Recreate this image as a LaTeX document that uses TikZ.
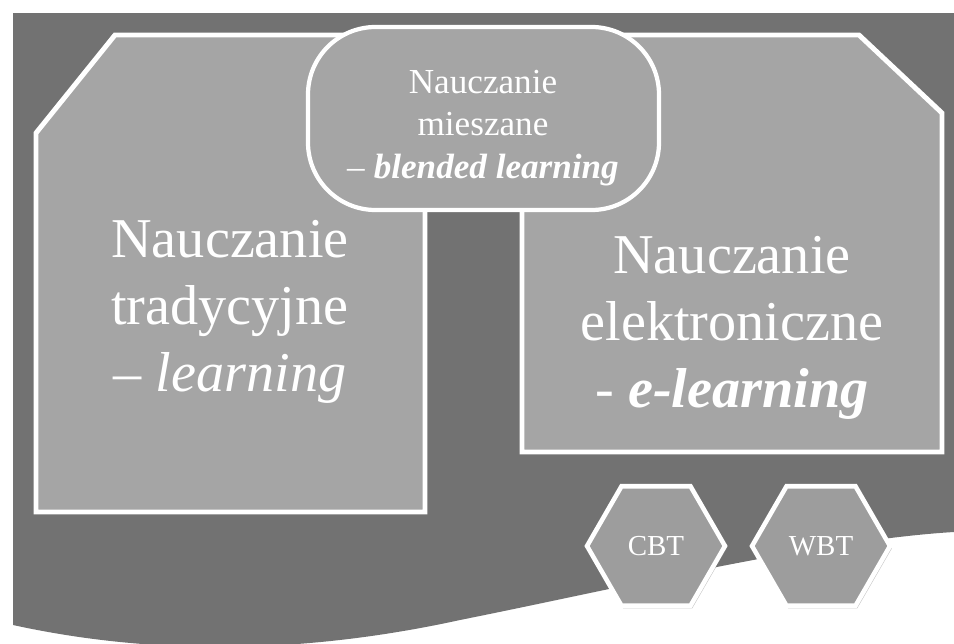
\documentclass[tikz,border=0pt]{standalone}
\usepackage{xcolor}
\usepackage{fontspec}
\usepackage{tikz}
\usetikzlibrary{shapes.geometric, shadows}
\setmainfont{Liberation Serif}

\definecolor{bgdark}{HTML}{727272}
\definecolor{boxgray}{HTML}{A5A5A5}
\definecolor{hexgray}{HTML}{9D9D9D}

\tikzset{
  panel/.style={draw=white, line width=2.8pt, fill=boxgray},
  bigtext/.style={text=white, align=center, inner sep=0pt, font=\fontsize{32}{38}\selectfont},
  hexbox/.style={regular polygon, regular polygon sides=6, minimum size=2.76cm, inner sep=0pt,
    draw=white, line width=2.6pt, fill=hexgray, text=white, font=\fontsize{16.5}{18}\selectfont,
    drop shadow={shadow xshift=1pt, shadow yshift=-1.5pt, opacity=0.45}}
}

\begin{document}
\begin{tikzpicture}[x=0.02cm, y=-0.02cm]
\useasboundingbox (0,0) rectangle (954,643);

% Background
\fill[bgdark] (13,13) -- (954,13) -- (954,532)
  .. controls (820,540) and (620,588) .. (460,620)
  .. controls (300,655) and (150,655) .. (13,625) -- cycle;

% Traditional box
\draw[panel] (36,133) -- (115,35) -- (425,35) -- (425,512) -- (36,512) -- cycle;
\node[bigtext] (trad) at (230,312) {Nauczanie\\tradycyjne\\– \textit{learning}};

% E-learning box
\draw[panel] (522,35) -- (859,35) -- (942,113) -- (942,452) -- (522,452) -- cycle;
\node[bigtext] (elearn) at (732,328) {Nauczanie\\elektroniczne\\- \textbf{\textit{e-learning}}};

% Blended box
\draw[panel, line width=2.4pt, rounded corners=1.35cm] (308,27) rectangle (659,210);
\node[bigtext, font=\fontsize{20}{24}\selectfont] (blend) at (483,128)
  {Nauczanie\\mieszane\\– \textbf{\textit{blended learning}}};

% Hexagons
\node[hexbox] (cbt) at (656,546) {CBT};
\node[hexbox] (wbt) at (821,546) {WBT};
\end{tikzpicture}
\end{document}
